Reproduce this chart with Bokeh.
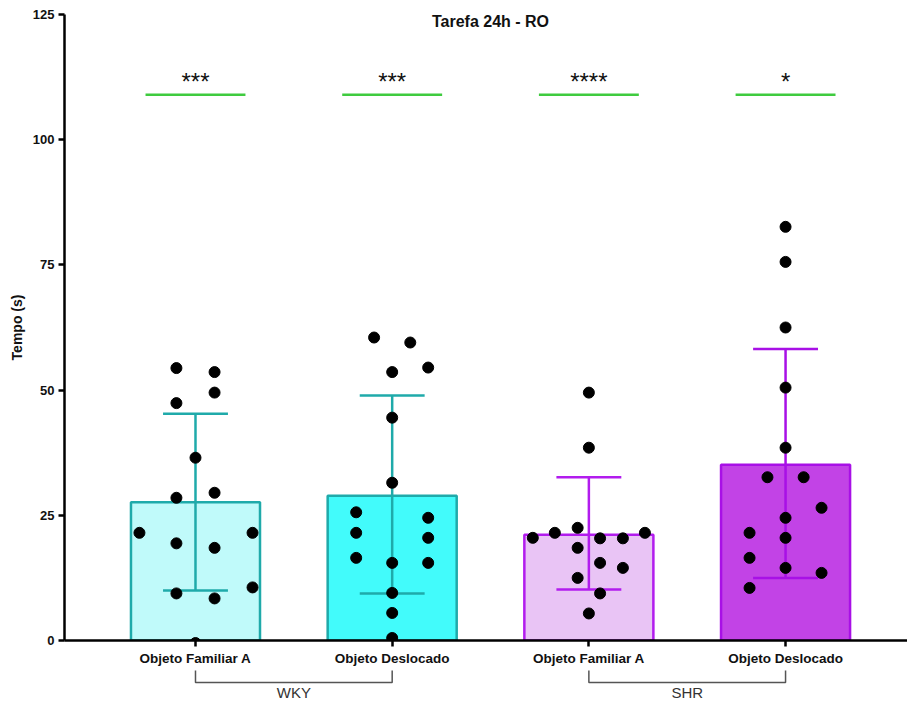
from bokeh.plotting import figure
from bokeh.layouts import column
from bokeh.models import Range1d, FixedTicker, ColumnDataSource, Label
from bokeh.core.properties import value
from bokeh.embed import file_html
from bokeh.resources import INLINE

# ---------------- data ----------------
categories = ["Objeto Familiar A", "Objeto Deslocado", "Objeto Familiar A", "Objeto Deslocado"]
groups = ["WKY", "SHR"]
positions = [1, 2, 3, 4]
means = [27.6, 28.9, 21.1, 35.1]
err_low = [10.0, 9.4, 10.2, 12.5]
err_high = [45.3, 48.9, 32.6, 58.2]
significance = ["***", "***", "****", "*"]
sig_level = 109.0

wky_familiar = [21.5, 54.4, 53.6, 47.4, 49.5, 36.5, 28.5, 29.5, 19.4, 18.5, 21.5, 10.6, 9.4, 8.4, -0.5]
wky_familiar_dx = [-0.285, -0.097, 0.097, -0.097, 0.097, 0.0, -0.097, 0.097, -0.097, 0.097, 0.29, 0.29, -0.097, 0.097, 0.0]
wky_deslocado = [60.5, 59.5, 53.6, 54.5, 44.5, 31.5, 25.6, 21.5, 16.5, 24.5, 20.5, 15.5, 15.5, 9.5, 5.5, 0.5]
wky_deslocado_dx = [-0.092, 0.092, 0.0, 0.183, 0.0, 0.0, -0.183, -0.183, -0.183, 0.183, 0.183, 0.183, 0.0, 0.0, 0.0, 0.0]
shr_familiar = [49.5, 38.5, 20.5, 21.5, 22.5, 20.4, 20.4, 21.5, 18.5, 15.5, 14.5, 12.5, 9.4, 5.4]
shr_familiar_dx = [0.0, 0.0, -0.285, -0.173, -0.057, 0.057, 0.173, 0.285, -0.057, 0.057, 0.173, -0.057, 0.057, 0.0]
shr_deslocado = [82.6, 75.6, 62.5, 50.5, 38.5, 32.6, 32.6, 26.5, 24.5, 20.5, 14.5, 13.5, 21.5, 16.5, 10.5]
shr_deslocado_dx = [0.0, 0.0, 0.0, 0.0, 0.0, -0.092, 0.092, 0.183, 0.0, 0.0, 0.0, 0.183, -0.183, -0.183, -0.183]

y_ticks = [0, 25, 50, 75, 100, 125]

# ---------------- styles ----------------
fill_colors = ["#C0FAFA", "#42FBFB", "#E9C4F5", "#C243E6"]
line_colors = ["#1FAAAA", "#1FAAAA", "#B21CEE", "#A810E6"]
FONT = "Liberation Sans"
XMIN, XMAX = 0.334, 4.62

p = figure(width=907, height=668, x_range=Range1d(XMIN, XMAX), y_range=Range1d(0, 125),
           output_backend="svg", toolbar_location=None,
           min_border_left=64, min_border_right=0, min_border_top=14, min_border_bottom=27)
p.xgrid.visible = False
p.ygrid.visible = False
p.outline_line_color = None
p.background_fill_color = "white"

# bars
bar_src = ColumnDataSource(dict(x=positions, top=means, fill=fill_colors, line=line_colors,
                                lo=err_low, hi=err_high))
p.vbar(x="x", top="top", bottom=0, width=0.656, source=bar_src,
       fill_color="fill", line_color="line", line_width=2.5)

# error bars
p.segment(x0="x", y0="lo", x1="x", y1="hi", source=bar_src, line_color="line", line_width=2.5)
cap = 0.165
cap_src = ColumnDataSource(dict(
    x0=[x - cap for x in positions] * 2, x1=[x + cap for x in positions] * 2,
    y=err_low + err_high, line=line_colors * 2))
p.segment(x0="x0", y0="y", x1="x1", y1="y", source=cap_src, line_color="line", line_width=2.5)

# points
all_vals = [wky_familiar, wky_deslocado, shr_familiar, shr_deslocado]
all_dx = [wky_familiar_dx, wky_deslocado_dx, shr_familiar_dx, shr_deslocado_dx]
px, py = [], []
for pos, vals, dxs in zip(positions, all_vals, all_dx):
    for v, d in zip(vals, dxs):
        px.append(pos + d)
        py.append(v)
p.scatter(px, py, size=11, marker="circle", fill_color="black", line_color="black")

# significance lines and stars
half = 0.254
p.segment(x0=[x - half for x in positions], y0=[sig_level] * 4,
          x1=[x + half for x in positions], y1=[sig_level] * 4,
          line_color="#3FCB3F", line_width=2.5)
p.text(x=positions, y=[sig_level + 2.7] * 4, text=significance,
       text_font=value(FONT), text_font_size="24px", text_color="#111111",
       text_align="center", text_baseline="middle")

# title
p.add_layout(Label(x=(positions[0] + positions[-1]) / 2, y=123.6, text="Tarefa 24h - RO",
                   text_font=FONT, text_font_size="16px", text_font_style="bold",
                   text_color="#111111", text_align="center", text_baseline="middle"))

# axes
for ax in (p.xaxis[0], p.yaxis[0]):
    ax.axis_line_width = 2.5
    ax.axis_line_color = "black"
    ax.major_tick_line_width = 2.5
    ax.major_tick_line_color = "black"
    ax.major_tick_out = 6
    ax.major_tick_in = 0
    ax.minor_tick_line_color = None
    ax.major_label_text_font = FONT
    ax.major_label_text_font_style = "bold"
    ax.major_label_text_color = "#111111"

p.yaxis.ticker = FixedTicker(ticks=y_ticks)
p.yaxis.major_label_text_font_size = "13px"
p.yaxis.major_label_standoff = 4
p.yaxis.axis_label = "Tempo (s)"
p.yaxis.axis_label_text_font = FONT
p.yaxis.axis_label_text_font_size = "14px"
p.yaxis.axis_label_text_font_style = "bold"
p.yaxis.axis_label_text_color = "#111111"
p.yaxis.axis_label_standoff = 5

p.xaxis.ticker = FixedTicker(ticks=positions)
p.xaxis.major_label_overrides = {pos: c for pos, c in zip(positions, categories)}
p.xaxis.major_label_text_font_size = "13.5px"
p.xaxis.major_label_standoff = 4

# group brackets below
f2 = figure(width=907, height=39, x_range=p.x_range, y_range=Range1d(39, 0),
            output_backend="svg", toolbar_location=None,
            x_axis_location=None, y_axis_location=None,
            min_border_left=64, min_border_right=0, min_border_top=0, min_border_bottom=0)
f2.xgrid.visible = False
f2.ygrid.visible = False
f2.outline_line_color = None
pairs = [(positions[0], positions[1]), (positions[2], positions[3])]
f2.multi_line(xs=[[a, a, b, b] for a, b in pairs], ys=[[2, 14, 14, 2] for _ in pairs],
              line_color="#555555", line_width=1.5)
f2.text(x=[(a + b) / 2 for a, b in pairs], y=[24, 24], text=groups,
        text_font=value(FONT), text_font_size="15px", text_color="#333333",
        text_align="center", text_baseline="middle")

layout = column(p, f2, spacing=0)
open("out.html", "w").write(file_html(layout, INLINE))
